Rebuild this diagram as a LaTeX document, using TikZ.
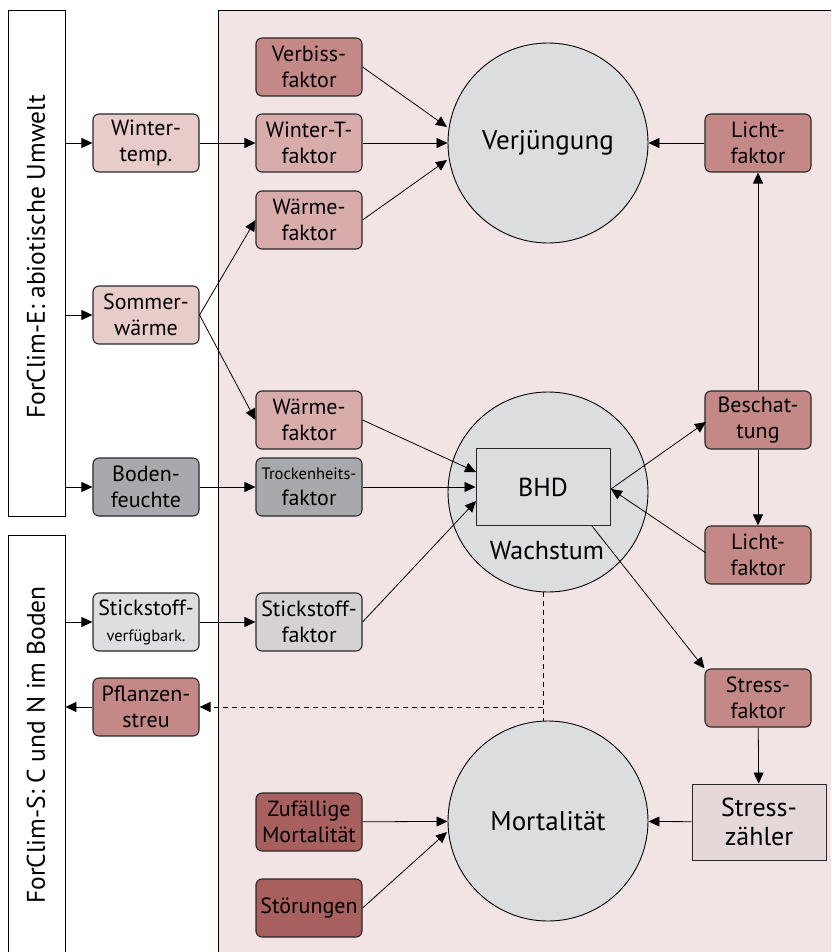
\documentclass[tikz,border=0pt]{standalone}
\usepackage{fontspec}
\setmainfont{PT Sans}
\usetikzlibrary{arrows.meta}
\definecolor{bgpink}{RGB}{242,228,228}
\definecolor{pinkA}{RGB}{232,204,202}
\definecolor{pinkB}{RGB}{216,172,170}
\definecolor{pinkC}{RGB}{196,137,135}
\definecolor{pinkD}{RGB}{168,96,94}
\definecolor{greyA}{RGB}{167,169,172}
\definecolor{greyB}{RGB}{221,222,224}
\definecolor{greyC}{RGB}{215,210,210}
\definecolor{circ}{RGB}{220,221,223}
\definecolor{szfill}{RGB}{228,216,216}
\definecolor{bord}{RGB}{40,40,40}
\begin{document}
\begin{tikzpicture}[x=1pt,y=-1pt,
  fbox/.style={draw=bord,line width=1.1pt,rounded corners=6pt,minimum width=106pt,minimum height=58pt,inner sep=0pt,align=center,font=\fontsize{22}{26}\selectfont},
  circnode/.style={circle,draw=black,line width=0.9pt,fill=circ,minimum size=200pt,inner sep=0pt,font=\fontsize{27}{30}\selectfont},
  sqbox/.style={draw=bord,line width=0.9pt,inner sep=0pt,align=center,font=\fontsize{26}{29}\selectfont},
  panel/.style={draw=black,line width=0.9pt,fill=white,inner sep=0pt},
  arr/.style={line width=0.8pt,-{Triangle[length=11pt,width=10pt]}},
  dashline/.style={line width=0.9pt,dash pattern=on 5pt off 4pt}]
\useasboundingbox (0,0) rectangle (831,952);
\clip (0,0) rectangle (831,952);
% background panel
\fill[bgpink] (218,10) rectangle (845,965);
\draw[line width=0.9pt] (218,965) -- (218,10) -- (845,10);
% left panels
\node[panel,minimum width=57pt,minimum height=506pt] (E) at (36.5,263) {};
\node[rotate=90,font=\fontsize{25.5}{28}\selectfont] (Elab) at (36,257) {ForClim-E: abiotische Umwelt};
\node[panel,minimum width=57pt,minimum height=430pt] (S) at (36.5,750) {};
\node[rotate=90,font=\fontsize{25.5}{28}\selectfont] (Slab) at (36,745) {ForClim-S: C und N im Boden};
% column 1
\node[fbox,fill=pinkA] (wt) at (146,143) {Winter-\\temp.};
\node[fbox,fill=pinkA] (sw) at (146,315) {Sommer-\\wärme};
\node[fbox,fill=greyA] (bf) at (146,487) {Boden-\\feuchte};
\node[fbox,fill=greyB] (sv) at (146,622) {Stickstoff-\\{\fontsize{16.5}{20}\selectfont verfügbark.}};
\node[fbox,fill=pinkC] (ps) at (146,707) {Pflanzen-\\streu};
% column 2
\node[fbox,fill=pinkC] (vf) at (309,67) {Verbiss-\\faktor};
\node[fbox,fill=pinkB] (wtf) at (309,143) {Winter-T-\\faktor};
\node[fbox,fill=pinkB] (wf1) at (309,220) {Wärme-\\faktor};
\node[fbox,fill=pinkB] (wf2) at (309,420) {Wärme-\\faktor};
\node[fbox,fill=greyA] (tf) at (309,487) {{\fontsize{16.5}{20}\selectfont Trockenheits-}\\faktor};
\node[fbox,fill=greyC] (sf) at (309,622) {Stickstoff-\\faktor};
\node[fbox,fill=pinkD] (zm) at (309,822) {Zufällige\\Mortalität};
\node[fbox,fill=pinkD] (st) at (309,908) {Störungen};
% circles
\node[circnode] (cv) at (548,143) {Verjüngung};
\node[circnode] (cw) at (548,492) {};
\node[circnode] (cm) at (548,821) {Mortalität};
\node[sqbox,fill=circ,minimum width=134pt,minimum height=77pt] (bhd) at (543,487) {BHD};
\node[font=\fontsize{26}{28}\selectfont] (wl) at (547,551) {Wachstum};
% column 3
\node[fbox,fill=pinkC] (lf1) at (758,143) {Licht-\\faktor};
\node[fbox,fill=pinkC] (be) at (758,420) {Beschat-\\tung};
\node[fbox,fill=pinkC] (lf2) at (758,555) {Licht-\\faktor};
\node[fbox,fill=pinkC] (sfa) at (758,698) {Stress-\\faktor};
\node[sqbox,fill=szfill,minimum width=134pt,minimum height=76pt] (sz) at (759,822) {Stress-\\zähler};
% connectors
\draw[arr] (E.east |- wt) -- (wt);
\draw[arr] (E.east |- sw) -- (sw);
\draw[arr] (E.east |- bf) -- (bf);
\draw[arr] (S.east |- sv) -- (sv);
\draw[arr] (ps) -- (S.east |- ps);
\draw[arr] (wt) -- (wtf);
\draw[arr] (sw.east) -- (wf1.west);
\draw[arr] (sw.east) -- (wf2.west);
\draw[arr] (bf) -- (tf);
\draw[arr] (sv) -- (sf);
\coordinate (cvA) at (447,127);
\coordinate (cvB) at (447,160);
\draw[arr] (vf.east) -- (cvA);
\draw[arr] (wtf) -- (cv);
\draw[arr] (wf1.east) -- (cvB);
\draw[arr] (lf1) -- (cv);
\draw[arr] (be) -- (lf1);
\draw[arr] (be) -- (lf2);
\coordinate (bhdA) at (476,472);
\coordinate (bhdB) at (476,501);
\coordinate (bhdE) at (611,489);
\coordinate (beW) at (706,422);
\coordinate (lf2W) at (706,553);
\draw[arr] (wf2.east) -- (bhdA);
\draw[arr] (tf) -- (bhd);
\draw[arr] (sf.east) -- (bhdB);
\draw[arr] (bhdE) -- (beW);
\draw[arr] (lf2W) -- (bhdE);
\coordinate (bhdS) at (592,526);
\draw[arr] (bhdS) -- (sfa.north west);
\draw[arr] (sfa) -- (sz);
\draw[arr] (sz) -- (cm);
\draw[arr] (zm) -- (cm);
\coordinate (cmA) at (447,832);
\draw[arr] (st.east) -- (cmA);
% dashed litter link
\coordinate (dtop) at (543,592);
\coordinate (dbot) at (543,721);
\coordinate (dmid) at (543,707);
\draw[dashline] (dtop) -- (dbot);
\draw[dashline,-{Triangle[length=11pt,width=10pt]}] (dmid) -- (ps.east);
\end{tikzpicture}
\end{document}
